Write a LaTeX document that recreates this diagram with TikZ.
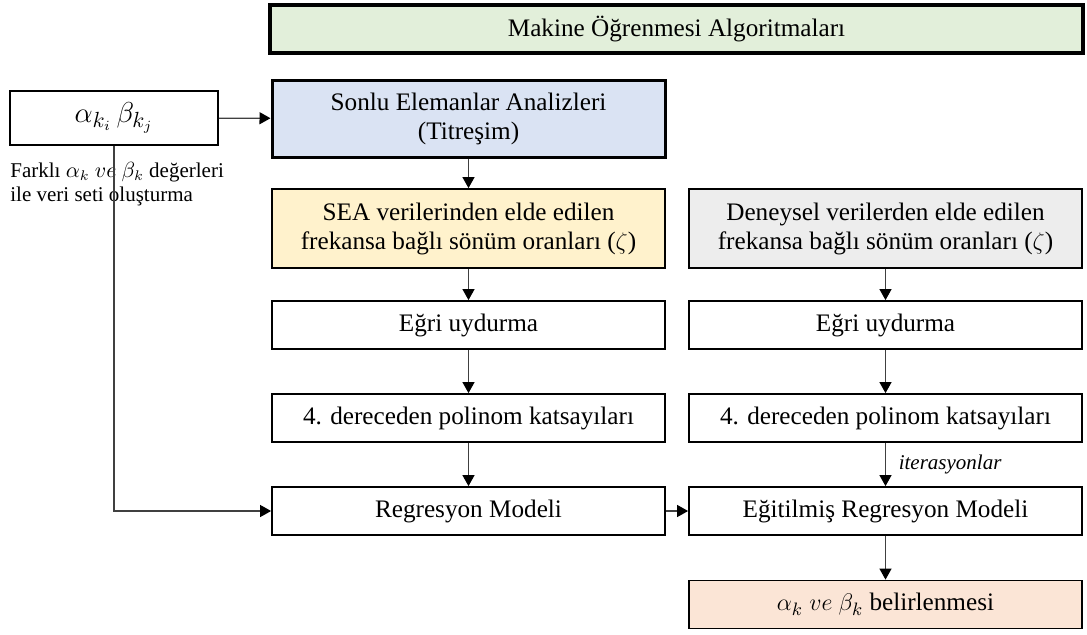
\documentclass[tikz,border=0pt]{standalone}
\usepackage{fontspec}
\setmainfont{Liberation Serif}
\usepackage{xcolor}
\usetikzlibrary{arrows.meta, positioning}

\definecolor{yesil}{RGB}{226,239,218}
\definecolor{mavi}{RGB}{218,227,243}
\definecolor{sari}{RGB}{255,242,204}
\definecolor{gri}{RGB}{237,237,237}
\definecolor{somon}{RGB}{251,229,214}

\tikzset{
	kutu/.style = {draw, line width=0.9pt, minimum width=196.5pt, minimum height=24pt,
		inner sep=0pt, align=center, font=\fontsize{12.6}{14.5}\selectfont},
	ok/.style = {-{Triangle[width=6pt,length=5.5pt,black]}, draw=black!75, line width=0.6pt},
	kucuk/.style = {font=\fontsize{10.5}{12}\selectfont}
}

\begin{document}
\begin{tikzpicture}[x=0.5pt, y=-0.5pt]
	\useasboundingbox (0,0) rectangle (1087,634);
	
	%% Baslik
	\node [kutu, fill=yesil, line width=1.9pt, minimum width=406.5pt] (baslik) at (676.5,29) {Makine Öğrenmesi Algoritmaları};
	
	%% Girdi
	\node [kutu, minimum width=104pt, minimum height=27pt, font=\fontsize{15}{17}\selectfont] (girdi) at (114,118) {$\alpha_{k_i}\,\beta_{k_j}$};
	\node [kucuk, anchor=west, align=left, inner sep=0pt] (aciklama) at (10,184) {Farklı $\alpha_k\ ve\ \beta_k$ değerleri\\ile veri seti oluşturma};
	
	%% Sol sutun
	\node [kutu, fill=mavi, line width=1.5pt, minimum height=38.5pt] (sonlu) at (468.5,118.5) {Sonlu Elemanlar Analizleri\\(Titreşim)};
	\node [kutu, fill=sari, minimum height=39.5pt] (sea) at (468.5,228.5) {SEA verilerinden elde edilen\\frekansa bağlı sönüm oranları ($\zeta$)};
	\node [kutu] (egriA) at (468.5,325) {Eğri uydurma};
	\node [kutu] (polA) at (468.5,418) {4. dereceden polinom katsayıları};
	\node [kutu] (regr) at (468.5,511) {Regresyon Modeli};
	
	%% Sag sutun
	\node [kutu, fill=gri, minimum height=39.5pt] (deney) at (885.5,228.5) {Deneysel verilerden elde edilen\\frekansa bağlı sönüm oranları ($\zeta$)};
	\node [kutu] (egriB) at (885.5,325) {Eğri uydurma};
	\node [kutu] (polB) at (885.5,418) {4. dereceden polinom katsayıları};
	\node [kutu] (egitim) at (885.5,511) {Eğitilmiş Regresyon Modeli};
	\node [kutu, fill=somon] (sonuc) at (885.5,604.5) {$\alpha_k\ ve\ \beta_k$ belirlenmesi};
	
	%% Oklar
	\draw [ok] (girdi) -- (sonlu);
	\draw [ok] (girdi.south) |- (regr.west);
	\draw [ok] (sonlu) -- (sea);
	\draw [ok] (sea) -- (egriA);
	\draw [ok] (egriA) -- (polA);
	\draw [ok] (polA) -- (regr);
	\draw [ok] (regr) -- (egitim);
	\draw [ok] (deney) -- (egriB);
	\draw [ok] (egriB) -- (polB);
	\draw [ok] (polB) -- (egitim) node [midway, right, kucuk, xshift=3pt] {\textit{iterasyonlar}};
	\draw [ok] (egitim) -- (sonuc);
\end{tikzpicture}
\end{document}
